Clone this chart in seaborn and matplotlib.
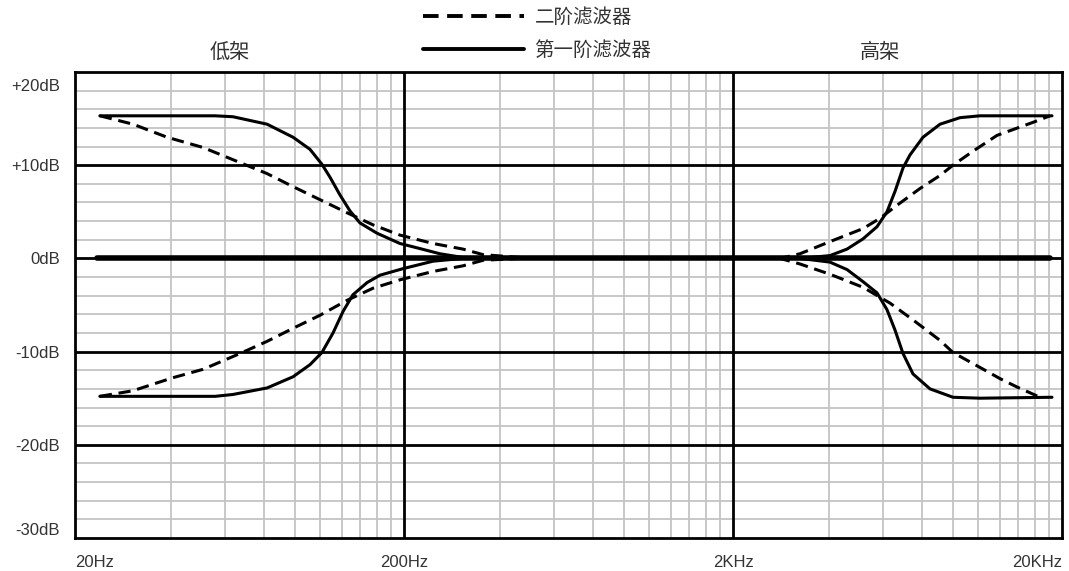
import numpy as np
import pandas as pd
import matplotlib
matplotlib.use("Agg")
import matplotlib.pyplot as plt
from matplotlib.ticker import FixedLocator, NullFormatter
from matplotlib.transforms import ScaledTranslation
import seaborn as sns

# series names (legend)
order_2nd = "二阶滤波器"
order_1st = "第一阶滤波器"

# low shelf, boost
low_boost_2nd_hz = [23.8, 30.0, 38.1, 49.0, 61.3, 76.7, 92.0, 111.1, 134.2, 161, 194.4, 245, 302, 348, 451, 596]
low_boost_2nd_db = [15.3, 14.4, 13.0, 11.9, 10.5, 9.1, 7.7, 6.3, 4.9, 3.6, 2.5, 1.6, 1.0, 0.4, 0.1, 0.0]
low_boost_1st_hz = [23.8, 53.3, 60.4, 76.7, 92.0, 103.6, 112.6, 119.2, 127.8, 137, 147, 165.6, 194.4, 223.8, 257, 302, 596]
low_boost_1st_db = [15.3, 15.3, 15.2, 14.4, 13.0, 11.7, 10.1, 8.7, 6.8, 5.1, 3.8, 2.7, 1.6, 1.05, 0.5, 0.1, 0.0]

# low shelf, cut
low_cut_2nd_hz = [23.8, 30.0, 39.7, 49.0, 63.5, 76.7, 92.0, 111.1, 134.2, 161, 194.4, 245, 302, 348, 451, 596]
low_cut_2nd_db = [-14.8, -14.2, -12.8, -11.9, -10.2, -8.9, -7.5, -6.1, -4.5, -3.2, -2.3, -1.4, -0.8, -0.2, 0.0, 0.0]
low_cut_1st_hz = [23.8, 53.3, 60.4, 76.7, 92.0, 103.6, 112.6, 121.7, 130.5, 139.9, 154.4, 169.1, 198.6, 245, 302, 596]
low_cut_1st_db = [-14.8, -14.8, -14.6, -13.9, -12.7, -11.4, -10.1, -8.0, -5.7, -3.9, -2.6, -1.8, -1.1, -0.3, 0.0, 0.0]

# high shelf, boost
high_boost_2nd_hz = [2100, 2780, 3197, 3942, 4970, 5596, 6302, 7404, 8518, 9326, 10726, 12692, 16332, 18388]
high_boost_2nd_db = [0.0, 0.0, 0.5, 1.8, 3.2, 4.3, 5.7, 7.5, 8.9, 10.0, 11.5, 13.2, 14.6, 15.3]
high_boost_1st_hz = [2100, 3197, 3942, 4443, 4970, 5480, 5876, 6217, 6572, 6902, 7560, 8518, 9795, 11268, 18648]
high_boost_1st_db = [0.0, 0.0, 0.3, 1.0, 2.1, 3.4, 5.0, 7.2, 9.7, 11.1, 13.0, 14.4, 15.1, 15.3, 15.3]

# high shelf, cut
high_cut_2nd_hz = [2100, 2780, 3197, 3942, 4970, 6003, 7050, 8518, 9326, 11268, 12960, 14600, 17150]
high_cut_2nd_db = [0.0, 0.0, -0.6, -1.7, -3.1, -4.8, -6.6, -8.8, -10.1, -11.7, -12.9, -13.8, -14.9]
high_cut_1st_hz = [2100, 3197, 3942, 4443, 4970, 5480, 5876, 6217, 6572, 7050, 7940, 9326, 11268, 18648]
high_cut_1st_db = [0.0, 0.0, -0.4, -1.2, -2.5, -3.7, -5.5, -7.7, -10.2, -12.4, -14.0, -14.9, -15.0, -14.9]

# flat response
flat_hz = [23.3, 18388]
flat_db = [0.0, 0.0]

x_ticks = [20, 200, 2000, 20000]
x_labels = ["20Hz", "200Hz", "2KHz", "20KHz"]
y_ticks = [20, 10, 0, -10, -20, -30]
y_labels = ["+20dB", "+10dB", "0dB", "-10dB", "-20dB", "-30dB"]


def curve(name, kind, hz, db):
    return pd.DataFrame({"hz": hz, "db": db, "curve": name, "filter": kind})


df = pd.concat([
    curve("lb2", order_2nd, low_boost_2nd_hz, low_boost_2nd_db),
    curve("lb1", order_1st, low_boost_1st_hz, low_boost_1st_db),
    curve("lc2", order_2nd, low_cut_2nd_hz, low_cut_2nd_db),
    curve("lc1", order_1st, low_cut_1st_hz, low_cut_1st_db),
    curve("hb2", order_2nd, high_boost_2nd_hz, high_boost_2nd_db),
    curve("hb1", order_1st, high_boost_1st_hz, high_boost_1st_db),
    curve("hc2", order_2nd, high_cut_2nd_hz, high_cut_2nd_db),
    curve("hc1", order_1st, high_cut_1st_hz, high_cut_1st_db),
], ignore_index=True)
flat = pd.DataFrame({"hz": flat_hz, "db": flat_db})

sns.set_style("white")
plt.rcParams["font.family"] = ["Liberation Sans", "Noto Sans CJK SC", "DejaVu Sans"]

fig, ax = plt.subplots(figsize=(10.69, 5.71), dpi=100)
fig.subplots_adjust(left=75 / 1069, right=1062 / 1069, top=1 - 72 / 571, bottom=1 - 538 / 571)

sns.lineplot(data=flat, x="hz", y="db", color="black", lw=4, ax=ax, legend=False)
sns.lineplot(data=df, x="hz", y="db", units="curve", estimator=None, sort=False,
             style="filter", style_order=[order_2nd, order_1st],
             dashes={order_2nd: (4, 2.2), order_1st: ""},
             color="black", lw=2.2, ax=ax)

ax.set_xscale("log")
ax.set_xlim(20, 20000)
ax.set_ylim(-30, 20)

# log-paper grid: light minor lines, heavy decade / 10dB lines on top
subs = [1.96, 2.86, 3.76, 4.66, 5.56, 6.46, 7.36, 8.26, 9.16]
minor_x = [20 * 10 ** d * s for d in range(3) for s in subs]
ax.xaxis.set_major_locator(FixedLocator(x_ticks))
ax.xaxis.set_minor_locator(FixedLocator(minor_x))
ax.xaxis.set_minor_formatter(NullFormatter())
ax.set_xticklabels(x_labels)
ax.yaxis.set_major_locator(FixedLocator(y_ticks))
ax.yaxis.set_minor_locator(FixedLocator(np.arange(-28, 20, 2)))
ax.set_yticklabels(y_labels)

ax.grid(which="minor", color="#c4c4c4", lw=1.3)
ax.grid(which="major", visible=False)
ax.set_axisbelow(True)
for xv in x_ticks[1:-1]:
    ax.axvline(xv, color="black", lw=2, zorder=1)
for yv in y_ticks[1:-1]:
    ax.axhline(yv, color="black", lw=2, zorder=1)

ax.tick_params(which="both", length=0)
ax.tick_params(axis="x", pad=12, labelsize=12, labelcolor="#333333")
ax.tick_params(axis="y", pad=11, labelsize=12, labelcolor="#333333")
for s in ax.spines.values():
    s.set_color("black")
    s.set_linewidth(2)
ax.set_xlabel("")
ax.set_ylabel("")

xl = ax.get_xticklabels()
xl[0].set_ha("left")
xl[-1].set_ha("right")
yl = ax.get_yticklabels()
yl[0].set_va("top")
yl[0].set_transform(yl[0].get_transform() + ScaledTranslation(0, -0.07, fig.dpi_scale_trans))
yl[-1].set_va("bottom")

ax.text(0.157, 1.043, "低架", transform=ax.transAxes, ha="center", va="center",
        fontsize=14.5, color="#333333")
ax.text(0.8156, 1.043, "高架", transform=ax.transAxes, ha="center", va="center",
        fontsize=14.5, color="#333333")

handles, labels = ax.get_legend_handles_labels()
pick = [(h, l) for h, l in zip(handles, labels) if l in (order_2nd, order_1st)]
ax.get_legend().remove()
leg = fig.legend([p[0] for p in pick], [p[1] for p in pick], loc="upper left",
                 bbox_to_anchor=(415 / 1069, 1.0), frameon=False, fontsize=14,
                 handlelength=5.2, handletextpad=0.55, labelspacing=0.75, borderaxespad=0.0)
for line in leg.get_lines():
    line.set_linewidth(2.8)
    line.set_color("black")
for t in leg.get_texts():
    t.set_color("#333333")

fig.savefig("out.png", dpi=100)
